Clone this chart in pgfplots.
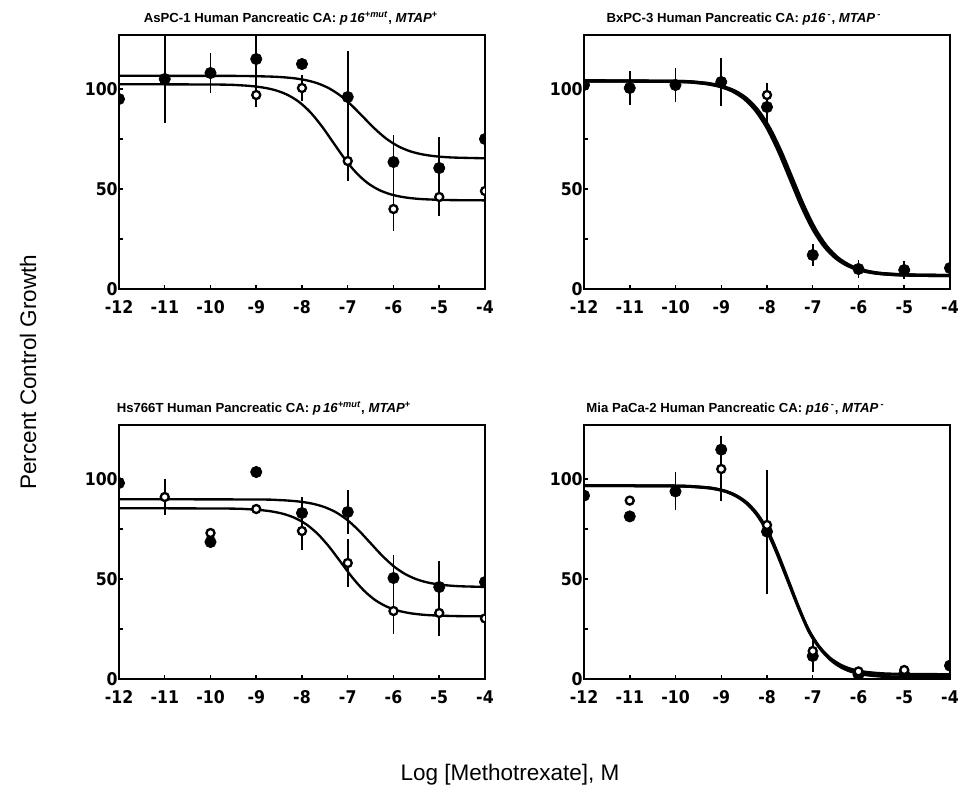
\documentclass[border=0pt]{standalone}
\usepackage{fontspec}
\setmainfont{Liberation Sans}
\newfontfamily\tickfont{DejaVu Sans Condensed}[BoldFont={DejaVu Sans Condensed Bold}]
\usepackage{pgfplots}
\pgfplotsset{compat=1.18}

% 1 px of the reference = 0.6pt
\pgfplotsset{
  panel/.style={
    scale only axis, width=219.6pt, height=152.4pt, anchor=south west,
    xmin=-12, xmax=-4, ymin=0, ymax=127,
    xtick={-12,...,-4}, ytick={0,50,100}, minor ytick={25,75},
    tick pos=left, tick align=inside,
    major tick length=2.5pt, minor tick length=2.5pt,
    every tick/.style={black, line width=0.9pt},
    axis line style={line width=1.2pt},
    tick label style={font=\tickfont\bfseries\fontsize{10.5}{10.5}\selectfont},
    /pgf/number format/assume math mode=true,
    xticklabel style={yshift=-3.5pt},
    yticklabel style={inner xsep=0.6pt},
    clip marker paths=true,
    title style={font=\bfseries\fontsize{7.9}{9}\selectfont, anchor=base, yshift=1.5pt},
  },
  fitline/.style={black, line width=1.4pt, no marks, smooth},
  filled/.style={only marks, mark=*, mark size=3.4pt, black,
    error bars/.cd, y dir=both, y explicit, error mark=none,
    error bar style={line width=1.1pt}},
  open/.style={only marks, mark=*, mark size=2.4pt, black,
    mark options={fill=white, draw=black, line width=1.4pt},
    error bars/.cd, y dir=both, y explicit, error mark=none,
    error bar style={line width=1.1pt}},
}

\begin{document}
\begin{tikzpicture}
\path[use as bounding box] (0,0) rectangle (581.4pt,-477.6pt);

% ---------- AsPC-1 ----------
\begin{axis}[panel, at={(71.4pt,-173.4pt)},
  title style={at={(axis description cs:0.47,1)}},
  title={AsPC-1 Human Pancreatic CA: \textit{p\,16}\textsuperscript{\textit{+mut}}, \textit{MTAP}\textsuperscript{+}}]
\addplot[fitline] coordinates {
 (-12,106.6)(-9.66,106.56)(-9.16,106.47)(-8.66,106.19)(-8.41,105.88)(-8.16,105.33)
 (-7.91,104.40)(-7.66,102.85)(-7.41,100.36)(-7.16,96.68)(-6.91,91.74)(-6.66,85.95)
 (-6.41,80.16)(-6.16,75.22)(-5.91,71.54)(-5.66,69.05)(-5.41,67.50)(-5.16,66.57)
 (-4.91,66.02)(-4.66,65.71)(-4.16,65.43)(-4,65.39)};
\addplot[fitline] coordinates {
 (-12,102.4)(-9.82,102.22)(-9.32,101.82)(-9.07,101.39)(-8.82,100.62)(-8.57,99.31)
 (-8.32,97.12)(-8.07,93.63)(-7.82,88.44)(-7.57,81.49)(-7.32,73.35)(-7.07,65.21)
 (-6.82,58.26)(-6.57,53.07)(-6.32,49.58)(-6.07,47.39)(-5.82,46.08)(-5.57,45.31)
 (-5.32,44.88)(-4.82,44.48)(-4,44.33)};
\addplot[filled] coordinates {
 (-12,95) +- (0,0) (-11,105) +- (0,22) (-10,108) +- (0,10) (-9,115) +- (0,12)
 (-8,112.5) +- (0,0) (-7,96) +- (0,23) (-6,63.5) +- (0,13.5) (-5,60.5) +- (0,15.5)
 (-4,75) +- (0,0)};
\addplot[open] coordinates {
 (-9,97) +- (0,6) (-8,100.5) +- (0,6.5) (-7,64) +- (0,10) (-6,40) +- (0,11)
 (-5,46) +- (0,9.5) (-4,49) +- (0,0)};
\end{axis}

% ---------- BxPC-3 ----------
\begin{axis}[panel, at={(350.4pt,-173.4pt)},
  title style={at={(axis description cs:0.437,1)}},
  title={BxPC-3 Human Pancreatic CA: \textit{p16}\,\textsuperscript{-}, \textit{MTAP}\,\textsuperscript{-}}]
\addplot[fitline, line width=2pt] coordinates {
 (-12,104.1)(-10,103.79)(-9.5,103.14)(-9.25,102.41)(-9,101.11)(-8.75,98.92)
 (-8.5,95.25)(-8.25,89.39)(-8,80.70)(-7.75,69.05)(-7.5,55.40)(-7.25,41.75)
 (-7,30.11)(-6.75,21.41)(-6.5,15.55)(-6.25,11.88)(-6,9.69)(-5.75,8.39)
 (-5.5,7.66)(-5,7.01)(-4,6.73)};
\addplot[fitline, line width=2pt] coordinates {
 (-12,104.1)(-9.95,103.79)(-9.45,103.14)(-9.2,102.41)(-8.95,101.11)(-8.7,98.92)
 (-8.45,95.25)(-8.2,89.39)(-7.95,80.70)(-7.7,69.05)(-7.45,55.40)(-7.2,41.75)
 (-6.95,30.11)(-6.7,21.41)(-6.45,15.55)(-6.2,11.88)(-5.95,9.69)(-5.7,8.39)
 (-5.45,7.66)(-4.95,7.01)(-4,6.73)};
\addplot[filled] coordinates {
 (-12,102) +- (0,0) (-11,100.5) +- (0,8.5) (-10,102) +- (0,8.5) (-9,103.5) +- (0,12)
 (-8,91) +- (0,10) (-7,17) +- (0,5.5) (-6,10) +- (0,4.5) (-5,9.5) +- (0,4.5)
 (-4,10.5) +- (0,0)};
\addplot[open] coordinates {(-8,97) +- (0,6)};
\end{axis}

% ---------- Hs766T ----------
\begin{axis}[panel, at={(71.4pt,-407.4pt)},
  title style={at={(axis description cs:0.396,1)}},
  title={Hs766T Human Pancreatic CA: \textit{p\,16}\textsuperscript{\textit{+mut}}, \textit{MTAP}\textsuperscript{+}}]
\addplot[fitline] coordinates {
 (-12,89.9)(-9,89.76)(-8.5,89.46)(-8.25,89.13)(-8,88.55)(-7.75,87.56)(-7.5,85.90)
 (-7.25,83.26)(-7,79.33)(-6.75,74.06)(-6.5,67.90)(-6.25,61.74)(-6,56.47)
 (-5.75,52.54)(-5.5,49.90)(-5.25,48.24)(-5,47.25)(-4.75,46.67)(-4.5,46.34)(-4,46.04)};
\addplot[fitline] coordinates {
 (-12,85.4)(-9.65,85.23)(-9.15,84.86)(-8.9,84.46)(-8.65,83.74)(-8.4,82.52)
 (-8.15,80.48)(-7.9,77.23)(-7.65,72.40)(-7.4,65.93)(-7.15,58.35)(-6.9,50.77)
 (-6.65,44.30)(-6.4,39.47)(-6.15,36.22)(-5.9,34.18)(-5.65,32.96)(-5.4,32.24)
 (-5.15,31.84)(-4.65,31.47)(-4,31.34)};
\addplot[filled] coordinates {
 (-12,98) +- (0,0) (-10,68.5) +- (0,0) (-9,103.5) +- (0,0) (-8,83) +- (0,8)
 (-7,83.5) +- (0,11) (-6,50.5) +- (0,11.5) (-5,46) +- (0,13) (-4,48.5) +- (0,0)};
\addplot[open] coordinates {
 (-11,91) +- (0,8.8) (-10,73) +- (0,0) (-9,85) +- (0,0) (-8,74) +- (0,9.7)
 (-7,58) +- (0,12) (-6,34) +- (0,11.7) (-5,33) +- (0,11.7) (-4,30.3) +- (0,0)};
\end{axis}

% ---------- Mia PaCa-2 ----------
\begin{axis}[panel, at={(350.4pt,-407.4pt)},
  title style={at={(axis description cs:0.414,1)}},
  title={Mia PaCa-2 Human Pancreatic CA: \textit{p16}\,\textsuperscript{-}, \textit{MTAP}\,\textsuperscript{-}}]
\addplot[fitline, line width=1.8pt] coordinates {
 (-12,96.7)(-10,96.5)(-9.37,95.76)(-9.14,95.06)(-8.91,93.80)(-8.69,91.67)
 (-8.46,88.11)(-8.23,82.43)(-8.00,73.99)(-7.78,62.69)(-7.55,49.45)(-7.32,36.21)
 (-7.10,24.91)(-6.87,16.47)(-6.64,10.79)(-6.41,7.23)(-6.19,5.10)(-5.96,3.84)
 (-5.73,3.14)(-5.28,2.50)(-4,2.21)};
\addplot[fitline, line width=1.8pt] coordinates {
 (-12,96.7)(-9.97,96.5)(-9.34,95.74)(-9.11,95.02)(-8.88,93.73)(-8.66,91.56)
 (-8.43,87.91)(-8.20,82.10)(-7.97,73.46)(-7.75,61.90)(-7.52,48.35)(-7.29,34.80)
 (-7.07,23.24)(-6.84,15.3)(-6.61,9.6)(-6.38,5.9)(-6.16,3.75)(-5.93,2.47)
 (-5.70,1.75)(-5.25,1.1)(-4,0.8)};
\addplot[filled] coordinates {
 (-12,91.7) +- (0,0) (-11,81.3) +- (0,0) (-10,93.8) +- (0,9.5) (-9,114.7) +- (0,7)
 (-8,73.7) +- (0,31) (-7,11.5) +- (0,8) (-6,2.2) +- (0,0) (-5,2.5) +- (0,0)
 (-4,6.7) +- (0,0)};
\addplot[open] coordinates {
 (-11,89.2) +- (0,0) (-9,105) +- (0,16) (-8,77) +- (0,0) (-7,14) +- (0,0)
 (-6,3.8) +- (0,0) (-5,4.5) +- (0,0)};
\end{axis}

\node[rotate=90, font=\fontsize{13.5}{16}\selectfont] at (16.8pt,-223.2pt) {Percent Control Growth};
\node[font=\fontsize{13.5}{16}\selectfont] at (306pt,-465pt) {Log [Methotrexate], M};
\end{tikzpicture}
\end{document}
